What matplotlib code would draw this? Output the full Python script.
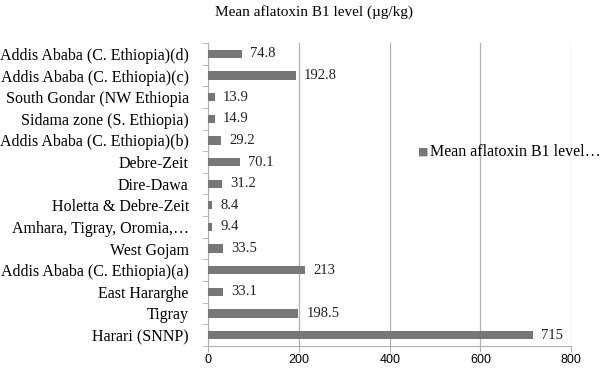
import numpy as np
import matplotlib.pyplot as plt
from matplotlib.ticker import FixedLocator

# ==========================================
# Data (bottom to top)
# ==========================================

regions = [
    "Harari (SNNP)",
    "Tigray",
    "East Hararghe",
    "Addis Ababa (C. Ethiopia)(a)",
    "West Gojam",
    "Amhara, Tigray, Oromia,\u2026",
    "Holetta & Debre-Zeit",
    "Dire-Dawa",
    "Debre-Zeit",
    "Addis Ababa (C. Ethiopia)(b)",
    "Sidama zone (S. Ethiopia)",
    "South Gondar (NW Ethiopia",
    "Addis Ababa (C. Ethiopia)(c)",
    "Addis Ababa (C. Ethiopia)(d)",
]
afb1 = [715, 198.5, 33.1, 213, 33.5, 9.4, 8.4, 31.2, 70.1, 29.2, 14.9, 13.9, 192.8, 74.8]
afb1_text = ["715", "198.5", "33.1", "213", "33.5", "9.4", "8.4", "31.2",
             "70.1", "29.2", "14.9", "13.9", "192.8", "74.8"]
xticks = [0, 200, 400, 600, 800]

# ==========================================
# Plot
# ==========================================

serif = "Liberation Serif"
sans = "Liberation Sans"
grey_bar = "#777777"
grey_line = "#b0b0b0"

fig = plt.figure(figsize=(6, 3.68), dpi=100)
ax = fig.add_axes([0.347, 0.06, 0.605, 0.823])

y = np.arange(len(regions))
ax.barh(y, afb1, height=0.38, color=grey_bar, zorder=3)

for yi, v, t in zip(y, afb1, afb1_text):
    ax.text(v + 18, yi, t, va="center", ha="left",
            fontsize=10.5, family=serif, color="#222222")

ax.set_xlim(0, 800)
ax.set_ylim(-0.5, len(regions) - 0.5)
ax.set_xticks(xticks)
ax.set_xticklabels([str(t) for t in xticks], family=sans, fontsize=9)
ax.set_yticks(y)
ax.set_yticklabels(regions, family=serif, fontsize=11.5)
ax.yaxis.set_minor_locator(FixedLocator(np.arange(-0.5, len(regions), 1)))
ax.tick_params(axis="y", which="major", length=0, pad=14)
ax.tick_params(axis="y", which="minor", length=4, color=grey_line)
ax.tick_params(axis="x", length=4, color=grey_line, pad=2)

ax.grid(axis="x", color=grey_line, linewidth=0.9, zorder=0)
for s in ["top", "right"]:
    ax.spines[s].set_visible(False)
ax.spines["left"].set_color(grey_line)
ax.spines["bottom"].set_color(grey_line)

fig.text(0.523, 0.967, "Mean aflatoxin B1 level (\u00b5g/kg)",
         ha="center", va="center", family=serif, fontsize=11)

# legend
fig.text(0.706, 0.588, "\u25a0", ha="center", va="center",
         color=grey_bar, fontsize=8)
fig.text(0.716, 0.588, "Mean aflatoxin B1 level\u2026",
         ha="left", va="center", family=serif, fontsize=11.5)

fig.savefig("out.png", dpi=100)
